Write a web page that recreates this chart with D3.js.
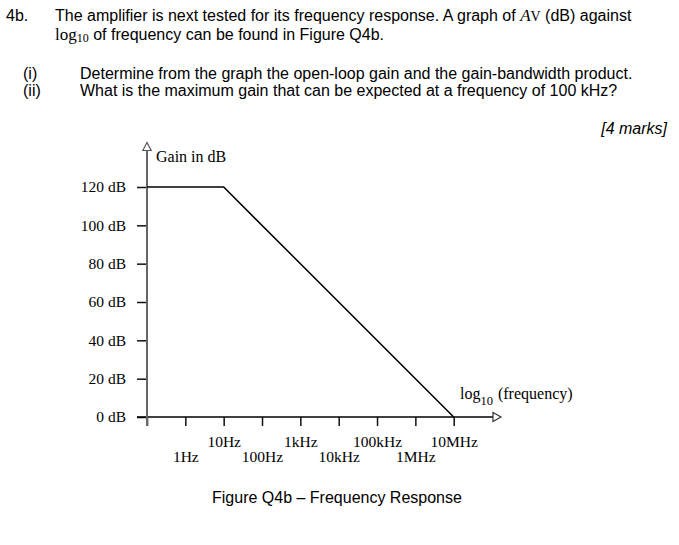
<!DOCTYPE html>
<html><head><meta charset="utf-8">
<script src="https://cdn.jsdelivr.net/npm/d3@7"></script>
<style>
body{margin:0;background:#fff;}
svg{display:block;}
.sans{font-family:"Liberation Sans",Arial,sans-serif;}
.serif{font-family:"Liberation Serif","Times New Roman",serif;}
</style></head>
<body>
<svg id="c" width="679" height="545"></svg>
<script>
// ---- data ----
const gainTicks = [0, 20, 40, 60, 80, 100, 120];
const decades = [-1, 0, 1, 2, 3, 4, 5, 6, 7];
const freqLabels = ["", "1Hz", "10Hz", "100Hz", "1kHz", "10kHz", "100kHz", "1MHz", "10MHz"];
const responseLogF = [-1, 1, 7];
const responseGain = [120, 120, 0];

const svg = d3.select("#c");
const x = d3.scaleLinear().domain([-1, 7]).range([147, 453.7]);
const y = d3.scaleLinear().domain([0, 120]).range([417, 187]);

// ---- question text ----
const q = svg.append("g").attr("class", "sans").attr("font-size", 16).attr("fill", "#000");
q.append("text").attr("x", 6).attr("y", 21).text("4b.");
const l1 = q.append("text").attr("x", 55).attr("y", 21);
l1.append("tspan").text("The amplifier is next tested for its frequency response. A graph of ");
l1.append("tspan").attr("class", "serif").attr("font-style", "italic").attr("font-size", 17).text("A");
l1.append("tspan").attr("class", "serif").attr("font-size", 14).text("V");
l1.append("tspan").text(" (dB) against");
const l2 = q.append("text").attr("x", 55).attr("y", 40);
l2.append("tspan").attr("class", "serif").attr("font-size", 17).text("log");
l2.append("tspan").attr("class", "serif").attr("font-size", 12).attr("dy", 2).text("10");
l2.append("tspan").attr("dy", -2).text(" of frequency can be found in Figure Q4b.");
q.append("text").attr("x", 23).attr("y", 79).text("(i)");
q.append("text").attr("x", 23).attr("y", 96).text("(ii)");
q.append("text").attr("x", 80).attr("y", 79).text("Determine from the graph the open-loop gain and the gain-bandwidth product.");
q.append("text").attr("x", 80).attr("y", 96).text("What is the maximum gain that can be expected at a frequency of 100 kHz?");
q.append("text").attr("x", 667).attr("y", 134).attr("text-anchor", "end").attr("font-style", "italic").text("[4 marks]");

// ---- chart ----
const g = svg.append("g").attr("class", "serif").attr("font-size", 15.5);

// y axis ticks + labels
const ya = d3.axisLeft(y).tickValues(gainTicks).tickSize(10).tickPadding(11).tickFormat(d => d + " dB");
const yg = g.append("g").attr("transform", "translate(147,0)").call(ya);
yg.select(".domain").remove();
yg.selectAll(".tick line").attr("stroke", "#111").attr("stroke-width", 1.5);
yg.selectAll(".tick text").attr("font-family", "Liberation Serif, serif").attr("font-size", 15.5).attr("fill", "#000");

// x axis
const xa = d3.axisBottom(x).tickValues(decades).tickSize(9).tickPadding(0).tickFormat((d, i) => freqLabels[i]);
const xg = g.append("g").attr("transform", "translate(0,417)").call(xa);
xg.select(".domain").remove();
xg.selectAll(".tick line").attr("stroke", "#111").attr("stroke-width", 1.5);
xg.selectAll(".tick text").attr("font-family", "Liberation Serif, serif").attr("font-size", 15.5).attr("fill", "#000")
  .attr("dy", null).attr("y", (d, i) => i % 2 === 0 ? 30 : 45);

// x axis line with open arrow
g.append("line").attr("x1", 137).attr("x2", 493).attr("y1", 417).attr("y2", 417).attr("stroke", "#000").attr("stroke-width", 1.5);
g.append("path").attr("d", "M493,412.5 L501,417 L493,421.5 Z").attr("fill", "#fff").attr("stroke", "#333").attr("stroke-width", 1.2);

// y axis line with open arrow
g.append("line").attr("x1", 147).attr("x2", 147).attr("y1", 426).attr("y2", 150.5).attr("stroke", "#666").attr("stroke-width", 2);
g.append("path").attr("d", "M142.8,150.5 L147,142.5 L151.2,150.5 Z").attr("fill", "#fff").attr("stroke", "#555").attr("stroke-width", 1.2);

// response line
const pts = responseLogF.map((f, i) => [x(f), y(responseGain[i])]);
g.append("path").attr("d", d3.line()(pts)).attr("fill", "none").attr("stroke", "#000").attr("stroke-width", 1.5);

// axis titles
g.append("text").attr("x", 156).attr("y", 162).attr("font-size", 16).text("Gain in dB");
const lt = g.append("text").attr("x", 460).attr("y", 399).attr("font-size", 16);
lt.append("tspan").text("log");
lt.append("tspan").attr("font-size", 12.5).attr("dy", 6).text("10");
lt.append("tspan").attr("dy", -6).attr("dx", 5).text("(frequency)");

// caption
svg.append("text").attr("class", "sans").attr("font-size", 16).attr("x", 212).attr("y", 503).text("Figure Q4b \u2013 Frequency Response");
</script>
</body></html>
